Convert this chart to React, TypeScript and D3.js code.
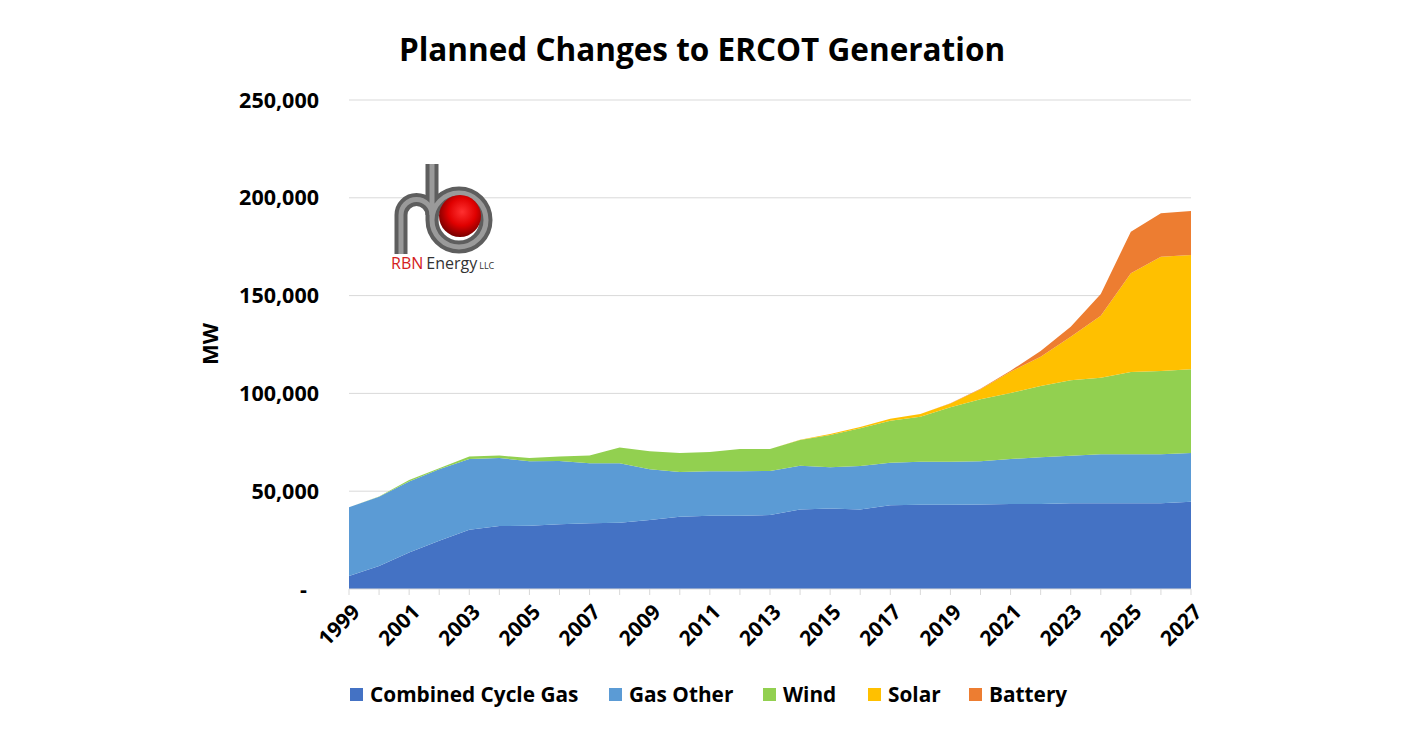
import React from "react";
import * as d3 from "d3";

const years: number[] = d3.range(1999, 2028);
const combinedCycleGas: number[] = [6600, 11800, 18600, 24700, 30300, 32200, 32400, 33100, 33600, 33900, 35300, 37000, 37500, 37500, 37800, 40700, 41100, 40700, 42800, 43100, 43100, 43200, 43500, 43500, 43800, 43800, 43800, 43800, 44600];
const gasOther: number[] = [35200, 35400, 36300, 36500, 36200, 34800, 32900, 32300, 30700, 30400, 25900, 22800, 22700, 22700, 22500, 22300, 21100, 22200, 21800, 22000, 22000, 22100, 23000, 23800, 24300, 25100, 25100, 25100, 24900];
const wind: number[] = [0, 100, 800, 500, 1300, 1200, 1700, 2400, 4000, 8100, 9200, 9700, 9800, 11400, 11300, 13200, 16500, 19300, 21400, 23000, 27800, 31700, 33700, 36500, 38600, 39100, 42000, 42600, 42800];
const solar: number[] = [0, 0, 0, 0, 0, 0, 0, 0, 0, 0, 0, 0, 0, 0, 0, 100, 500, 600, 1100, 1400, 2000, 5100, 10900, 15000, 22300, 31700, 50500, 58400, 58500];
const battery: number[] = [0, 0, 0, 0, 0, 0, 0, 0, 0, 0, 0, 0, 0, 0, 0, 0, 0, 0, 0, 0, 100, 300, 500, 2900, 5100, 11100, 21300, 22200, 22500];

const seriesNames: string[] = ["Combined Cycle Gas", "Gas Other", "Wind", "Solar", "Battery"];
const seriesColors: string[] = ["#4472C4", "#5B9BD5", "#92D050", "#FFC000", "#ED7D31"];
const yTicks: number[] = [0, 50000, 100000, 150000, 200000, 250000];
const legendX: number[] = [350, 609, 763, 868, 969];

const FONT = "'Open Sans', sans-serif";

export default function App() {
  const x = d3.scaleLinear().domain([1999, 2027]).range([349, 1191]);
  const y = d3.scaleLinear().domain([0, 250000]).range([589, 100]);

  const rows = years.map((yr, i) => ({
    year: yr,
    [seriesNames[0]]: combinedCycleGas[i],
    [seriesNames[1]]: gasOther[i],
    [seriesNames[2]]: wind[i],
    [seriesNames[3]]: solar[i],
    [seriesNames[4]]: battery[i],
  }));
  const stacked = d3.stack<any>().keys(seriesNames)(rows);
  const area = d3
    .area<any>()
    .x((d) => x(d.data.year))
    .y0((d) => y(d[0]))
    .y1((d) => y(d[1]));

  const fmt = d3.format(",");
  const rPath = "M401,254 L401,215 A15.5,15.5 0 0 1 432,215";
  const bPath = "M432,164 L432,220 A27,27 0 1 0 486,220 A27,27 0 1 0 432,220";

  return (
    <svg width={1411} height={741} style={{ position: "absolute", left: 0, top: 0, background: "#fff" }}>
      <defs>
        <radialGradient id="ball" cx="0.55" cy="0.4" r="0.6">
          <stop offset="0" stopColor="#ff3030" />
          <stop offset="0.55" stopColor="#e00000" />
          <stop offset="1" stopColor="#7a0000" />
        </radialGradient>
      </defs>
      <text x={702} y={61} textAnchor="middle" fontFamily={FONT} fontWeight={700} fontSize={31.5} fill="#000">
        Planned Changes to ERCOT Generation
      </text>

      {yTicks.map((t) => (
        <g key={t}>
          {t > 0 && <line x1={349} x2={1191} y1={y(t)} y2={y(t)} stroke="#d9d9d9" strokeWidth={1} />}
          <text
            x={t === 0 ? 307 : 319}
            y={y(t)}
            dy="0.35em"
            textAnchor="end"
            fontFamily={FONT}
            fontWeight={700}
            fontSize={21.5}
            fill="#000"
          >
            {t === 0 ? "-" : fmt(t)}
          </text>
        </g>
      ))}

      <text
        transform={`translate(218,344) rotate(-90)`}
        textAnchor="middle"
        fontFamily={FONT}
        fontWeight={700}
        fontSize={22}
        fill="#000"
      >
        MW
      </text>

      {stacked.map((s, i) => (
        <path key={s.key} d={area(s) || ""} fill={seriesColors[i]} />
      ))}

      <line x1={349} x2={1191} y1={589} y2={589} stroke="#d9d9d9" strokeWidth={1} />
      {years.map((yr) => (
        <line key={yr} x1={x(yr)} x2={x(yr)} y1={589} y2={595} stroke="#d9d9d9" strokeWidth={1} />
      ))}
      {years
        .filter((yr) => (yr - 1999) % 2 === 0)
        .map((yr) => (
          <text
            key={yr}
            transform={`translate(${x(yr) + 7},${608}) rotate(-45)`}
            textAnchor="end"
            fontFamily={FONT}
            fontWeight={700}
            fontSize={21}
            dy="0.35em"
            fill="#000"
          >
            {yr}
          </text>
        ))}

      {seriesNames.map((n, i) => (
        <g key={n}>
          <rect x={legendX[i]} y={688} width={13} height={13} fill={seriesColors[i]} />
          <text x={legendX[i] + 20} y={701.5} fontFamily={FONT} fontWeight={700} fontSize={20.8} fill="#000">
            {n}
          </text>
        </g>
      ))}

      {/* RBN logo */}
      <g fill="none" strokeLinecap="butt">
        <path d={rPath} stroke="#5e5e5e" strokeWidth={13} />
        <path d={bPath} stroke="#5e5e5e" strokeWidth={13} />
        <path d={rPath} stroke="#9a9a9a" strokeWidth={5} />
        <path d={bPath} stroke="#9a9a9a" strokeWidth={5} />
      </g>
      <circle cx={460} cy={216} r={21} fill="url(#ball)" />
      <text x={391} y={269} fontFamily={FONT} fontSize={16} fill="#333">
        <tspan fill="#d42020">RBN</tspan>
        <tspan dx={3}>Energy</tspan>
        <tspan dx={2} fontSize={9}>LLC</tspan>
      </text>
    </svg>
  );
}
